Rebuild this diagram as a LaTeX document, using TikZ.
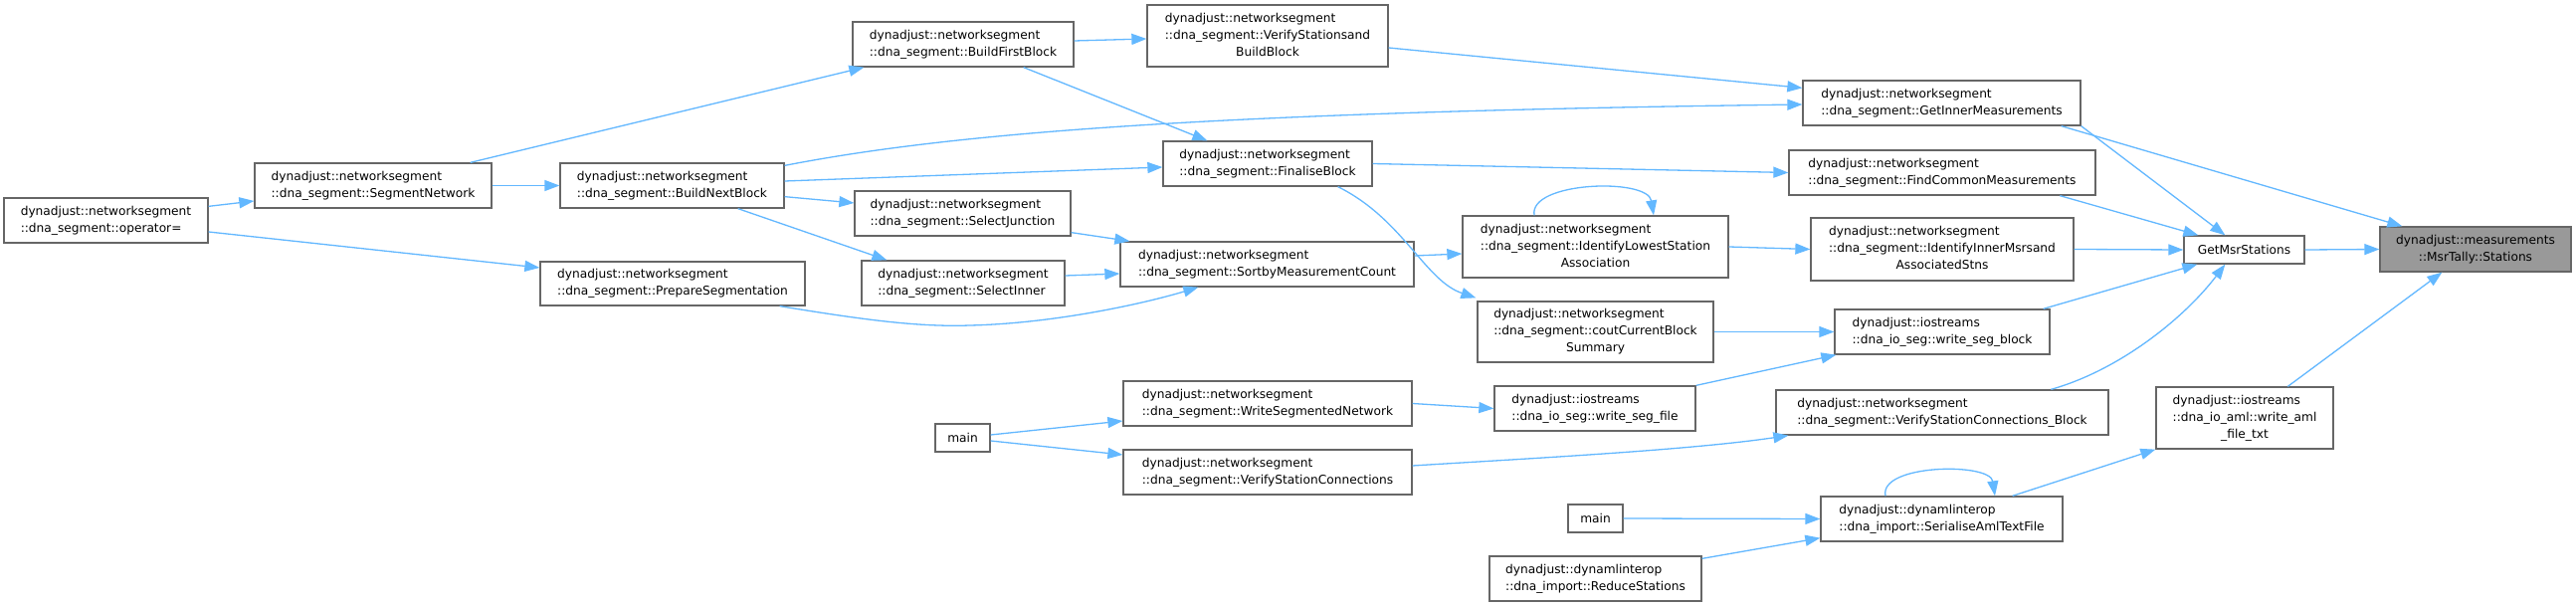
\documentclass[tikz,border=0pt]{standalone}
\usepackage{fontspec}
\setmainfont{DejaVu Sans}
\usetikzlibrary{arrows.meta}
\definecolor{edgeblue}{HTML}{63B8FF}
\definecolor{boxgray}{HTML}{666666}
\definecolor{rootgray}{HTML}{999999}
\newcommand\mytwo[2]{\begin{tabular}{@{}l@{}}#1\\#2\end{tabular}}
\newcommand\mythree[3]{\begin{tabular}{@{}l@{}}#1\\#2\\\multicolumn{1}{@{}c@{}}{#3}\end{tabular}}
\begin{document}
\begin{tikzpicture}[x=1pt,y=-1pt,
  fn/.style={draw=boxgray, line width=1.3pt, fill=white, inner sep=0pt, font=\fontsize{12.2}{17}\selectfont},
  sz/.style 2 args={minimum width=#1pt, minimum height=#2pt},
  call/.style={draw=edgeblue, line width=1.3pt, -{Triangle[length=15pt,width=11pt]}}]
\fill[white] (0,0) rectangle (2589,609);
\useasboundingbox (0,0) rectangle (2589,609);

% nodes
\node[fn, sz={192}{45}, fill=rootgray, align=center] (stations) at (2488,250.5) {dynadjust::measurements\\::MsrTally::Stations};
\node[fn, sz={121}{28}] (getmsr) at (2255.5,251) {GetMsrStations};
\node[fn, sz={279}{45}] (getinner) at (1951.5,103.5) {\mytwo{dynadjust::networksegment}{::dna\_segment::GetInnerMeasurements}};
\node[fn, sz={308}{45}] (findcommon) at (1952,173.5) {\mytwo{dynadjust::networksegment}{::dna\_segment::FindCommonMeasurements}};
\node[fn, sz={264}{63}] (identinner) at (1952,250.5) {\mythree{dynadjust::networksegment}{::dna\_segment::IdentifyInnerMsrsand}{AssociatedStns}};
\node[fn, sz={216}{45}] (writesegblock) at (1952,333.5) {\mytwo{dynadjust::iostreams}{::dna\_io\_seg::write\_seg\_block}};
\node[fn, sz={334}{45}] (verifyconnblock) at (1952,414.5) {\mytwo{dynadjust::networksegment}{::dna\_segment::VerifyStationConnections\_Block}};
\node[fn, sz={178}{62}] (writeaml) at (2256,420) {\mythree{dynadjust::iostreams}{::dna\_io\_aml::write\_aml}{\_file\_txt}};
\node[fn, sz={243}{45}] (serialise) at (1951.5,521.5) {\mytwo{dynadjust::dynamlinterop}{::dna\_import::SerialiseAmlTextFile}};
\node[fn, sz={242}{62}] (verifybuild) at (1274,36) {\mythree{dynadjust::networksegment}{::dna\_segment::VerifyStationsand}{BuildBlock}};
\node[fn, sz={222}{45}] (buildfirst) at (968,44.5) {\mytwo{dynadjust::networksegment}{::dna\_segment::BuildFirstBlock}};
\node[fn, sz={210}{45}] (finalise) at (1274,164.5) {\mytwo{dynadjust::networksegment}{::dna\_segment::FinaliseBlock}};
\node[fn, sz={267}{62}] (identlowest) at (1603.5,248) {\mythree{dynadjust::networksegment}{::dna\_segment::IdentifyLowestStation}{Association}};
\node[fn, sz={295}{45}] (sortby) at (1273.5,265.5) {\mytwo{dynadjust::networksegment}{::dna\_segment::SortbyMeasurementCount}};
\node[fn, sz={217}{45}] (selectjunction) at (967.5,214.5) {\mytwo{dynadjust::networksegment}{::dna\_segment::SelectJunction}};
\node[fn, sz={204}{45}] (selectinner) at (968,284.5) {\mytwo{dynadjust::networksegment}{::dna\_segment::SelectInner}};
\node[fn, sz={237}{61}] (coutcurrent) at (1603.5,333.5) {\mythree{dynadjust::networksegment}{::dna\_segment::coutCurrentBlock}{Summary}};
\node[fn, sz={202}{45}] (writesegfile) at (1603,410.5) {\mytwo{dynadjust::iostreams}{::dna\_io\_seg::write\_seg\_file}};
\node[fn, sz={290}{45}] (writesegnet) at (1274,405.5) {\mytwo{dynadjust::networksegment}{::dna\_segment::WriteSegmentedNetwork}};
\node[fn, sz={290}{45}] (verifyconn) at (1274,474.5) {\mytwo{dynadjust::networksegment}{::dna\_segment::VerifyStationConnections}};
\node[fn, sz={55}{28}] (mainA) at (967.5,440) {main};
\node[fn, sz={55}{28}] (mainB) at (1603.5,521) {main};
\node[fn, sz={213}{45}] (reduce) at (1603.5,581.5) {\mytwo{dynadjust::dynamlinterop}{::dna\_import::ReduceStations}};
\node[fn, sz={238}{45}] (segnet) at (375,186.5) {\mytwo{dynadjust::networksegment}{::dna\_segment::SegmentNetwork}};
\node[fn, sz={225}{45}] (buildnext) at (675.5,186.5) {\mytwo{dynadjust::networksegment}{::dna\_segment::BuildNextBlock}};
\node[fn, sz={266}{44}] (prepareseg) at (676,285) {\mytwo{dynadjust::networksegment}{::dna\_segment::PrepareSegmentation}};
\node[fn, sz={205}{45}] (operator) at (106.5,221.5) {\mytwo{dynadjust::networksegment}{::dna\_segment::operator=}};

% edges
\draw[call] (getmsr.east) -- (stations.west);
\draw[call] ([xshift=-20pt]getinner.south east) -- ([xshift=23pt]stations.north west);
\draw[call] ([xshift=133pt]writeaml.north west) -- ([xshift=63pt]stations.south west);
\draw[call] (getinner.south east) -- ([xshift=42pt]getmsr.north west);
\draw[call] ([xshift=273pt]findcommon.south west) -- ([xshift=15pt]getmsr.north west);
\draw[call] (identinner.east) -- (getmsr.west);
\draw[call] ([xshift=-7pt]writesegblock.north east) -- ([xshift=14pt]getmsr.south west);
\draw[call] ([xshift=277pt]verifyconnblock.north west) .. controls (2130,372) and (2195,320) .. ([xshift=42pt]getmsr.south west);
\draw[call] (identlowest.east) -- (identinner.west);
\draw[call] ([xshift=-61.5pt]identlowest.north) .. controls +(-6,-34) and +(-6,-38) .. ([xshift=58.5pt]identlowest.north);
\draw[call] (finalise.east) -- (findcommon.west);
\draw[call] ([yshift=8.5pt]sortby.east) -- ([yshift=-7pt]identlowest.west);
\draw[call] ([xshift=-35pt]finalise.south east) .. controls (1410,220) and (1432,282) .. ([xshift=-1pt,yshift=3pt]coutcurrent.north west);
\draw[call] (coutcurrent.east) -- (writesegblock.west);
\draw[call] (writesegfile.north east) -- ([xshift=2pt]writesegblock.south west);
\draw[call] ([yshift=6.5pt]verifyconn.east) .. controls (1550,460) and (1700,452) .. ([xshift=13pt]verifyconnblock.south west);
\draw[call] (mainB.east) -- (serialise.west);
\draw[call] ([yshift=-3pt]reduce.north east) -- ([yshift=4pt]serialise.south west);
\draw[call] ([xshift=-56.5pt]serialise.north) .. controls +(-7,-32) and +(-5,-34) .. ([xshift=53.5pt]serialise.north);
\draw[call] ([xshift=-51pt]serialise.north east) -- (writeaml.south west);
\draw[call] (writesegnet.east) -- (writesegfile.west);
\draw[call] ([yshift=3pt]mainA.east) -- ([yshift=-17.5pt]writesegnet.west);
\draw[call] ([yshift=-3pt]mainA.east) -- ([yshift=17.5pt]verifyconn.west);
\draw[call] ([yshift=-12pt]verifybuild.east) -- ([yshift=-8pt]getinner.north west);
\draw[call] ([yshift=-3pt]buildnext.north east) .. controls (950,135) and (1200,113) .. ([yshift=-1.5pt]getinner.west);
\draw[call] ([yshift=4.5pt]buildnext.east) -- ([yshift=-3.5pt]finalise.west);
\draw[call] ([yshift=12pt]buildnext.south east) -- ([yshift=10.5pt]selectjunction.west);
\draw[call] ([xshift=-47pt]buildnext.south east) -- ([xshift=26pt]selectinner.north west);
\draw[call] ([yshift=3.5pt]buildfirst.east) -- ([yshift=-3pt]verifybuild.west);
\draw[call] ([xshift=-51pt]buildfirst.south east) -- ([xshift=45pt]finalise.north west);
\draw[call] ([xshift=-22pt]segnet.north east) -- ([xshift=12pt]buildfirst.south west);
\draw[call] (segnet.east) -- (buildnext.west);
\draw[call] ([yshift=-9pt]operator.north east) -- ([yshift=-15.5pt]segnet.west);
\draw[call] ([yshift=-11.5pt]operator.east) -- ([yshift=16pt]prepareseg.west);
\draw[call] ([yshift=4pt]selectjunction.south east) -- ([xshift=10pt]sortby.north west);
\draw[call] ([yshift=7.5pt]selectinner.east) -- ([yshift=-9.5pt]sortby.west);
\draw[call] ([xshift=-26pt]prepareseg.south east) .. controls (860,320) and (920,329) .. (975,327) .. controls (1060,325) and (1150,305) .. ([xshift=79pt]sortby.south west);
\end{tikzpicture}
\end{document}
